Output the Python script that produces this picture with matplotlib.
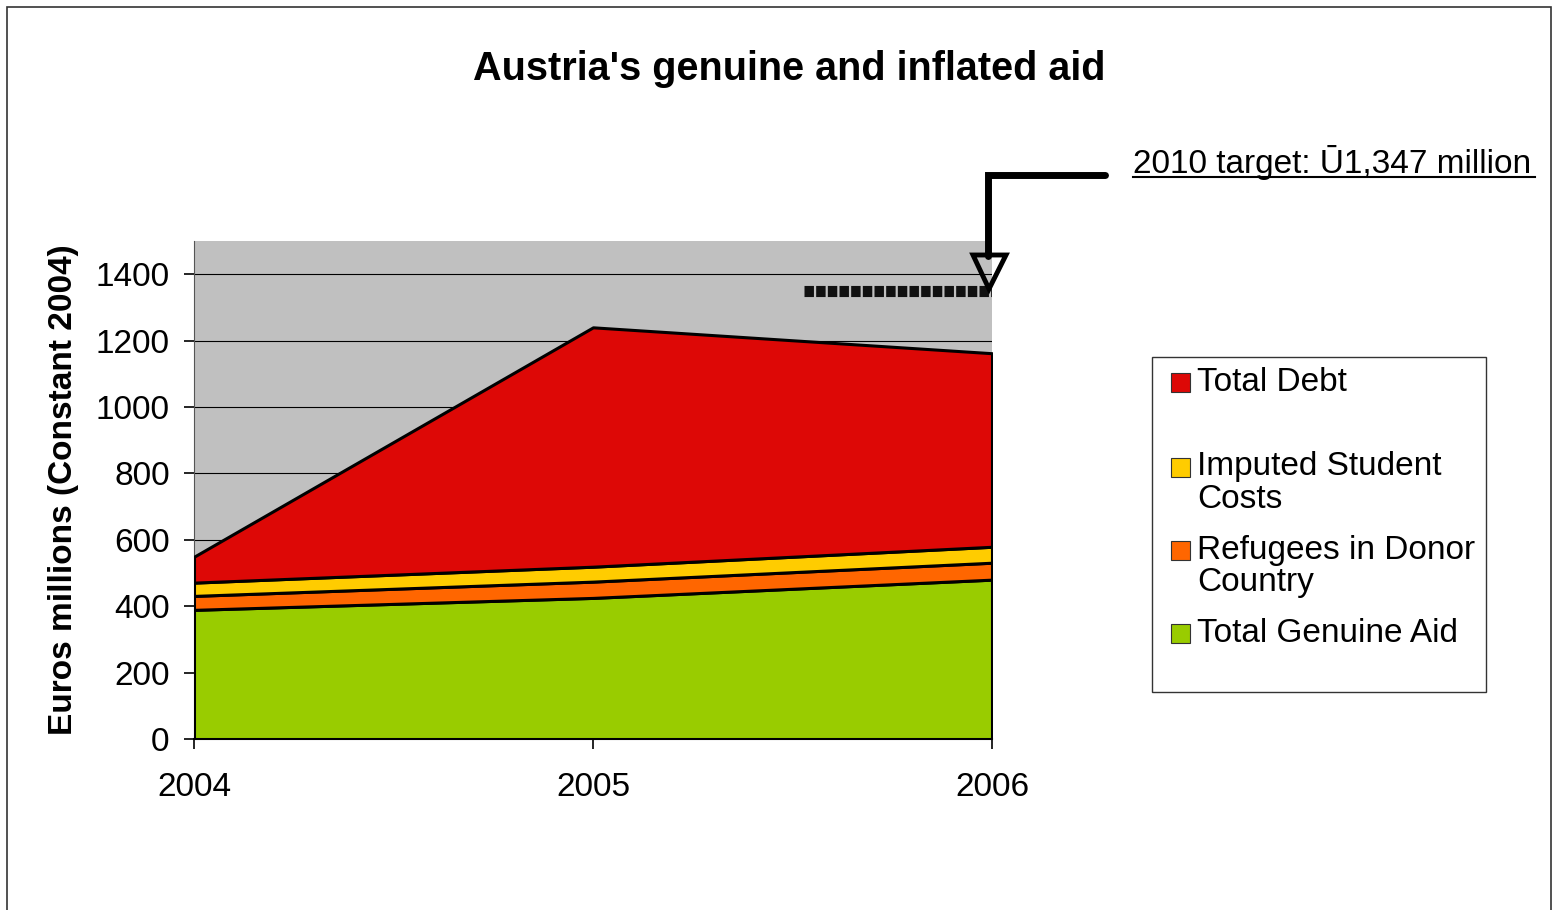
import matplotlib.pyplot as plt
from matplotlib.lines import Line2D
from matplotlib.patches import Rectangle, Polygon

plt.rcParams['font.family'] = ['Liberation Sans', 'DejaVu Sans']

years = [2004, 2005, 2006]
genuine_aid = [389, 425, 480]
refugees = [42, 49, 51]
student_costs = [40, 45, 48]
total_debt = [78, 721, 583]
target_2010 = 1350
target_from = 2005.53

series = [genuine_aid, refugees, student_costs, total_debt]
colors = ['#99CC00', '#FF6600', '#FFCC00', '#DD0806']
labels = ['Total Genuine Aid', 'Refugees in Donor\nCountry', 'Imputed Student\nCosts', 'Total Debt']

W, H = 1553, 910
fig = plt.figure(figsize=(W / 100, H / 100), dpi=100)


def px(x, y):
    return (x / W, 1 - y / H)


ax = fig.add_axes([194 / W, 1 - 739 / H, (992 - 194) / W, (739 - 241) / H])
ax.set_facecolor('#C0C0C0')
ax.stackplot(years, *series, colors=colors, edgecolor='black', linewidth=2.2, zorder=3)
ax.plot([target_from, years[-1]], [target_2010, target_2010], color='#111111', lw=8,
        linestyle=(0, (0.85, 0.2)), dash_capstyle='butt', zorder=4)

ax.set_xlim(2004, 2006)
ax.set_ylim(0, 1500)
ax.set_yticks(range(0, 1401, 200))
ax.set_xticks(years)
ax.set_xticklabels([str(y) for y in years])
ax.grid(axis='y', color='black', lw=0.8, zorder=1)
ax.set_axisbelow(True)
for s in ['top', 'right']:
    ax.spines[s].set_visible(False)
ax.spines['left'].set_color('#555555')
ax.spines['bottom'].set_linewidth(1.5)
ax.tick_params(axis='both', labelsize=24, length=7.5, width=1.2, direction='out')
ax.tick_params(axis='x', pad=16)
ax.tick_params(axis='y', pad=10)
ax.set_ylabel('Euros millions (Constant 2004)', fontsize=24, fontweight='bold', labelpad=12)

fig.text(789 / W, 1 - 69 / H, "Austria's genuine and inflated aid", fontsize=28.5,
         fontweight='bold', ha='center', va='center')

# outer frame
fig.add_artist(Rectangle(px(7, 930), (1551 - 7) / W, (930 - 7) / H, fill=False,
                         edgecolor='#333333', lw=1.2, transform=fig.transFigure))

# target callout
fig.add_artist(Line2D([1105 / W, 988 / W, 988 / W], [px(0, 175)[1], px(0, 175)[1], px(0, 256)[1]],
                      color='black', lw=5, solid_joinstyle='miter', solid_capstyle='round',
                      transform=fig.transFigure))
fig.add_artist(Polygon([px(973, 255), px(1006, 255), px(989, 289)], closed=True, fill=False,
                       edgecolor='black', lw=3.5, transform=fig.transFigure))
fig.text(1133 / W, 1 - 162 / H, '2010 target: Ū1,347 million', fontsize=24, ha='left', va='center')
fig.add_artist(Line2D([1133 / W, 1535 / W], [px(0, 177)[1]] * 2, color='black', lw=1.5,
                      transform=fig.transFigure))

# legend
fig.add_artist(Rectangle(px(1152, 692), (1486 - 1152) / W, (692 - 357) / H, fill=False,
                         edgecolor='#333333', lw=1, transform=fig.transFigure))
leg_y = [633, 550, 467, 382]
for lab, col, y in zip(labels, colors, leg_y):
    fig.add_artist(Rectangle(px(1171, y + 10), 19 / W, 19 / H, facecolor=col,
                             edgecolor='#333333', lw=0.8, transform=fig.transFigure))
    for i, line in enumerate(lab.split('\n')):
        fig.text(1197 / W, 1 - (y + 32 * i) / H, line, fontsize=24, ha='left', va='center')

fig.savefig('out.png', dpi=100)
